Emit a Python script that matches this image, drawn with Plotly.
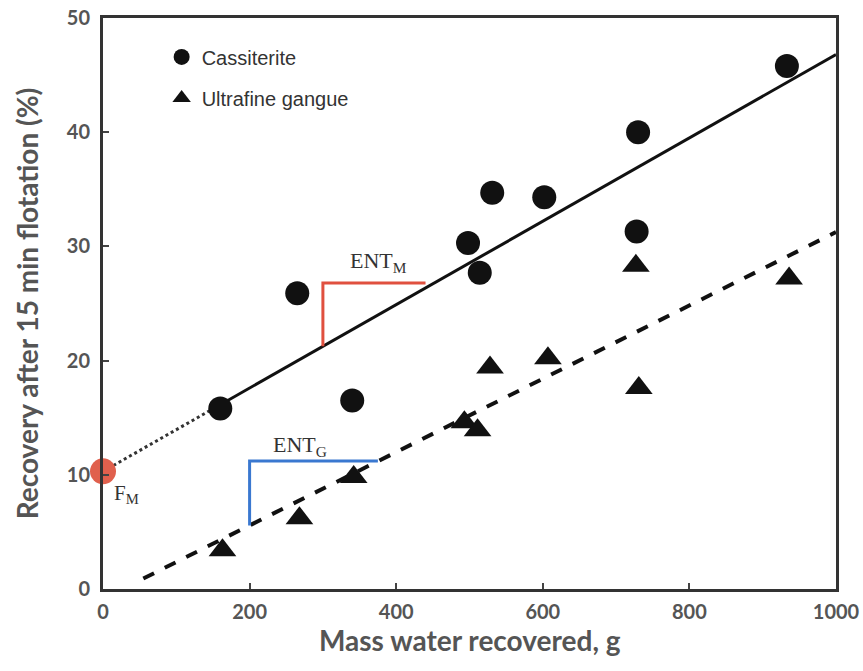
import plotly.graph_objects as go

# Data
cass_x = [160, 265, 340, 498, 514, 531, 602, 730, 728, 933]
cass_y = [15.8, 25.9, 16.5, 30.3, 27.7, 34.7, 34.3, 40.0, 31.3, 45.8]
gang_x = [163, 268, 342, 493, 511, 528, 607, 727, 731, 936]
gang_y = [3.4, 6.2, 9.8, 14.6, 13.9, 19.4, 20.2, 28.3, 17.6, 27.2]

# Fitted lines (intercept, slope)
fit_m = (10.3, 0.0365)
fit_g = (-0.85, 0.0321)
fm_point = (0, 10.3)

# ENT brackets: x start, x end, top y
ent_m = (300, 440, 26.8)
ent_g = (200, 375, 11.2)

def line_y(fit, x):
    return fit[0] + fit[1] * x

fig = go.Figure()

# dotted extrapolation for cassiterite
fig.add_trace(go.Scatter(x=[0, 160], y=[line_y(fit_m, 0), line_y(fit_m, 160)], mode="lines",
                         line=dict(color="#333", width=3, dash="dot"), showlegend=False, hoverinfo="skip"))
fig.add_trace(go.Scatter(x=[160, 1000], y=[line_y(fit_m, 160), line_y(fit_m, 1000)], mode="lines",
                         line=dict(color="#111", width=3), showlegend=False, hoverinfo="skip"))
fig.add_trace(go.Scatter(x=[55, 1000], y=[line_y(fit_g, 55), line_y(fit_g, 1000)], mode="lines",
                         line=dict(color="#111", width=4, dash="dash"), showlegend=False, hoverinfo="skip"))

# ENT brackets
for ent, fit, col in [(ent_m, fit_m, "#e0503f"), (ent_g, fit_g, "#3a78d0")]:
    x0, x1, ytop = ent
    fig.add_trace(go.Scatter(x=[x0, x0, x1], y=[line_y(fit, x0), ytop, ytop], mode="lines",
                             line=dict(color=col, width=3), showlegend=False, hoverinfo="skip"))

fig.add_trace(go.Scatter(x=cass_x, y=cass_y, mode="markers", name="Cassiterite", legendgroup="a",
                         marker=dict(symbol="circle", size=24, color="#111")))
fig.add_trace(go.Scatter(x=gang_x, y=gang_y, mode="markers", name="Ultrafine gangue", legendgroup="b",
                         marker=dict(symbol="triangle-up", size=24, color="#111")))

fig.add_trace(go.Scatter(x=[fm_point[0]], y=[fm_point[1]], mode="markers", showlegend=False,
                         marker=dict(size=26, color="#e0604d"), cliponaxis=False))

serif = "Liberation Serif"
fig.add_annotation(x=376, y=28.6, text="ENT<sub>M</sub>", showarrow=False,
                   font=dict(family=serif, size=22, color="#333"))
fig.add_annotation(x=269, y=12.5, text="ENT<sub>G</sub>", showarrow=False,
                   font=dict(family=serif, size=22, color="#333"))
fig.add_annotation(x=32, y=8.3, text="F<sub>M</sub>", showarrow=False,
                   font=dict(family=serif, size=21, color="#333"))

axis_font = dict(family="Lato", size=20, color="#555", weight="bold")
title_font = dict(family="Lato", size=28, color="#555", weight="bold")

# x-axis title as paper annotation
fig.add_annotation(xref="paper", yref="paper", x=0.5, y=-0.089, yanchor="middle",
                   text="Mass water recovered, g", showarrow=False, font=title_font)

fig.update_xaxes(range=[0, 1000], tickvals=[0, 200, 400, 600, 800, 1000], ticks="inside", ticklen=6,
                 tickwidth=2, tickcolor="#444", showline=True, linewidth=3, linecolor="#333", mirror=True,
                 showgrid=False, zeroline=False, tickfont=axis_font, ticklabelstandoff=3, automargin=False)
fig.update_yaxes(range=[0, 50], tickvals=[0, 10, 20, 30, 40, 50], ticks="inside", ticklen=6,
                 tickwidth=2, tickcolor="#444", showline=True, linewidth=3, linecolor="#333", mirror=True,
                 showgrid=False, zeroline=False, tickfont=axis_font, ticklabelstandoff=6, automargin=False,
                 title=dict(text="Recovery after 15 min flotation (%)", font=title_font, standoff=20))

fig.update_layout(
    width=863, height=671, plot_bgcolor="white", paper_bgcolor="white",
    margin=dict(l=103, r=27, t=18, b=82),
    legend=dict(x=0.08, y=0.966, xanchor="left", yanchor="top", bgcolor="rgba(0,0,0,0)",
                font=dict(family="Liberation Sans", size=20, color="#333"), itemsizing="trace",
                tracegroupgap=12),
)

fig.write_html("out.html")
